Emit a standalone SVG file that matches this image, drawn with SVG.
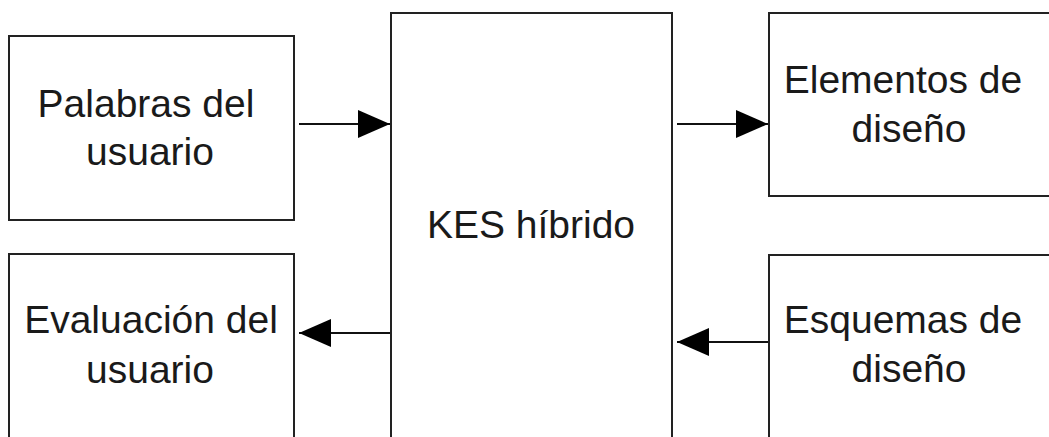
<svg xmlns="http://www.w3.org/2000/svg" width="1049" height="437" viewBox="0 0 1049 437">
<style>
.box{fill:#fff;stroke:#222;stroke-width:2}
.lbl{font-family:"Liberation Sans",Arial,sans-serif;font-size:39px;fill:#1a1a1a;text-anchor:middle}
.conn{stroke:#111;stroke-width:2;fill:none;marker-end:url(#ah)}
</style>
<defs>
<marker id="ah" viewBox="0 0 32 28" refX="32" refY="14" markerWidth="32" markerHeight="28" markerUnits="userSpaceOnUse" orient="auto">
<path d="M0,0 L32,14 L0,28 Z" fill="#000"/>
</marker>
</defs>
<rect width="1049" height="437" fill="#fff"/>
<g id="palabras">
<rect class="box" x="9" y="36" width="285" height="184"/>
<text class="lbl" x="146" y="117">Palabras del</text>
<text class="lbl" x="150" y="165">usuario</text>
</g>
<g id="evaluacion">
<rect class="box" x="9" y="254" width="285" height="200"/>
<text class="lbl" x="151" y="333">Evaluación del</text>
<text class="lbl" x="150" y="383">usuario</text>
</g>
<g id="kes">
<rect class="box" x="391" y="13" width="281" height="440"/>
<text class="lbl" x="531" y="238">KES híbrido</text>
</g>
<g id="elementos">
<rect class="box" x="769" y="13" width="300" height="183"/>
<text class="lbl" x="903" y="93">Elementos de</text>
<text class="lbl" x="909" y="142">diseño</text>
</g>
<g id="esquemas">
<rect class="box" x="769" y="255" width="300" height="200"/>
<text class="lbl" x="903" y="333">Esquemas de</text>
<text class="lbl" x="909" y="382">diseño</text>
</g>
<g id="connectors">
<line class="conn" x1="299" y1="124" x2="390" y2="124"/>
<line class="conn" x1="390" y1="333" x2="299" y2="333"/>
<line class="conn" x1="677" y1="124" x2="768" y2="124"/>
<line class="conn" x1="768" y1="342" x2="677" y2="342"/>
</g>
</svg>
